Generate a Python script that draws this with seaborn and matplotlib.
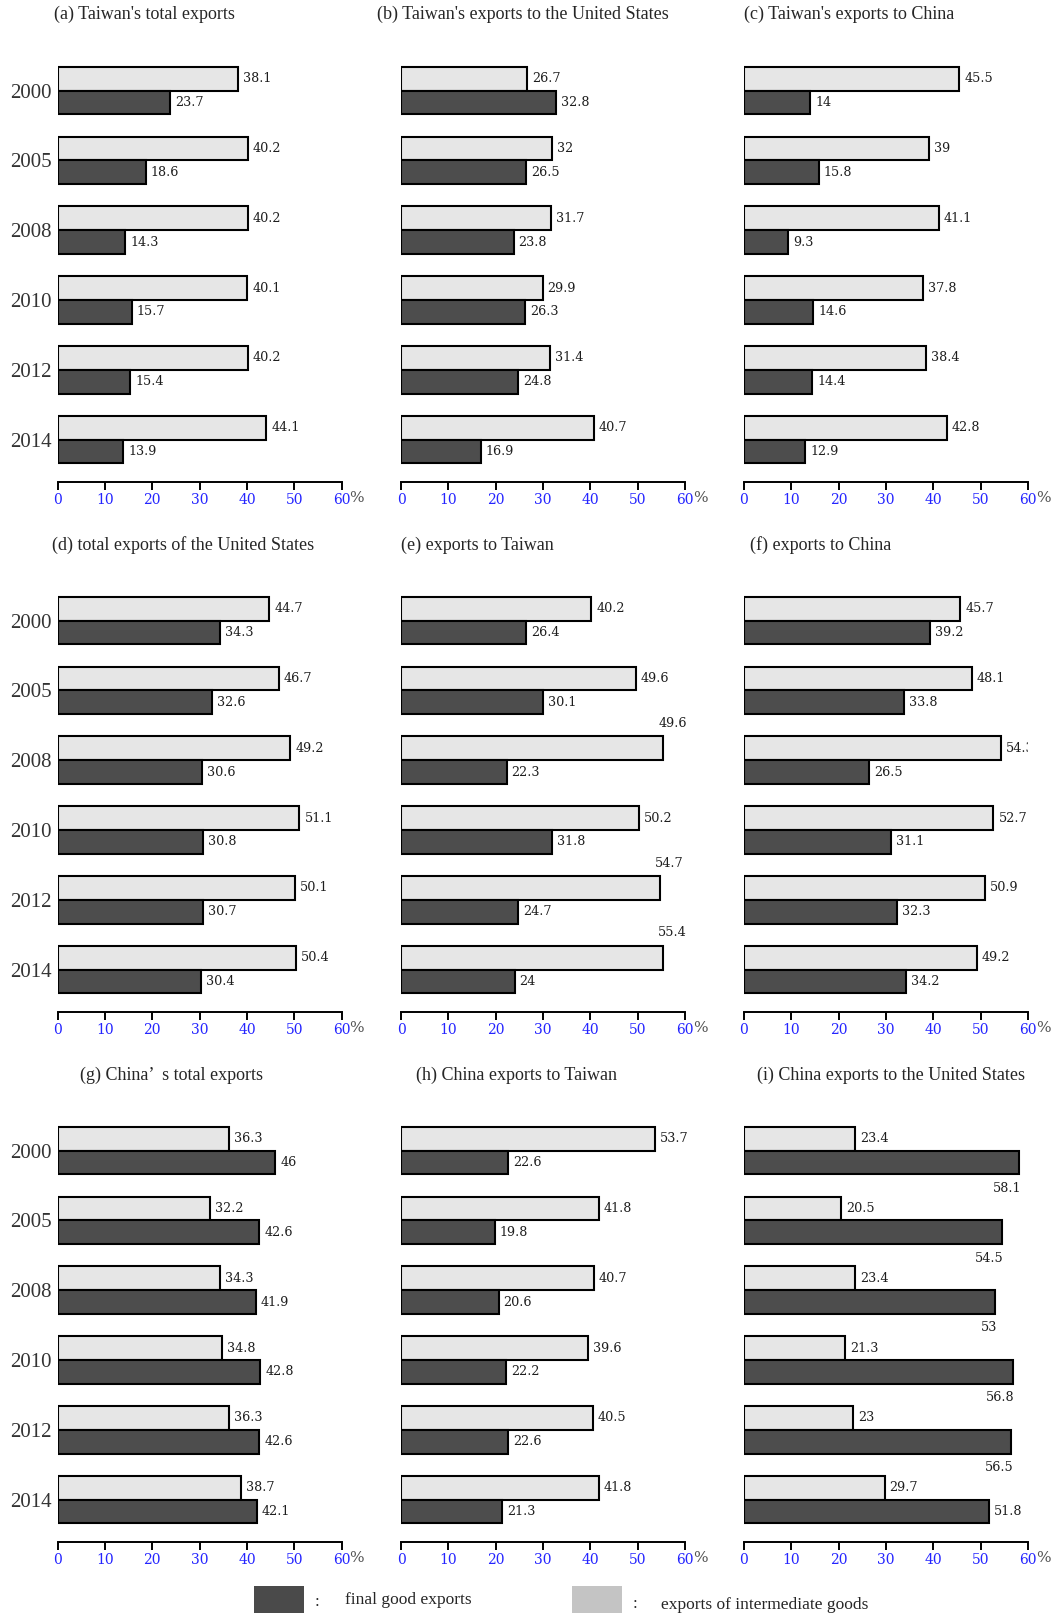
import matplotlib
matplotlib.use('Agg')
import matplotlib.pyplot as plt
import pandas as pd
import seaborn as sns
from matplotlib.patches import Rectangle

# Data (shares in %), light = intermediate goods, dark = final goods
years = ['2000', '2005', '2008', '2010', '2012', '2014']

titles = [
    "(a) Taiwan's total exports",
    "(b) Taiwan's exports to the United States",
    "(c) Taiwan's exports to China",
    "(d) total exports of the United States",
    "(e) exports to Taiwan",
    "(f) exports to China",
    "(g) China\u2019  s total exports",
    "(h) China exports to Taiwan",
    "(i) China exports to the United States",
]

inter_a = [38.1, 40.2, 40.2, 40.1, 40.2, 44.1]
final_a = [23.7, 18.6, 14.3, 15.7, 15.4, 13.9]
inter_b = [26.7, 32, 31.7, 29.9, 31.4, 40.7]
final_b = [32.8, 26.5, 23.8, 26.3, 24.8, 16.9]
inter_c = [45.5, 39, 41.1, 37.8, 38.4, 42.8]
final_c = [14, 15.8, 9.3, 14.6, 14.4, 12.9]
inter_d = [44.7, 46.7, 49.2, 51.1, 50.1, 50.4]
final_d = [34.3, 32.6, 30.6, 30.8, 30.7, 30.4]
inter_e = [40.2, 49.6, 55.4, 50.2, 54.7, 55.4]
inter_e_text = ['40.2', '49.6', '49.6', '50.2', '54.7', '55.4']
final_e = [26.4, 30.1, 22.3, 31.8, 24.7, 24]
inter_f = [45.7, 48.1, 54.3, 52.7, 50.9, 49.2]
final_f = [39.2, 33.8, 26.5, 31.1, 32.3, 34.2]
inter_g = [36.3, 32.2, 34.3, 34.8, 36.3, 38.7]
final_g = [46, 42.6, 41.9, 42.8, 42.6, 42.1]
inter_h = [53.7, 41.8, 40.7, 39.6, 40.5, 41.8]
final_h = [22.6, 19.8, 20.6, 22.2, 22.6, 21.3]
inter_i = [23.4, 20.5, 23.4, 21.3, 23, 29.7]
final_i = [58.1, 54.5, 53, 56.8, 56.5, 51.8]

inter_all = [inter_a, inter_b, inter_c, inter_d, inter_e, inter_f, inter_g, inter_h, inter_i]
final_all = [final_a, final_b, final_c, final_d, final_e, final_f, final_g, final_h, final_i]
keys = list('abcdefghi')

INTER = 'exports of intermediate goods'
FINAL = 'final good exports'
LIGHT = '#e6e6e6'
DARK = '#4d4d4d'

sns.set_style('white')
plt.rcParams['font.family'] = 'serif'
plt.rcParams['font.serif'] = ['Liberation Serif', 'DejaVu Serif']

W, H = 1060, 1613
fig = plt.figure(figsize=(W / 100, H / 100), dpi=100)

col_left = [57.6, 401, 744]
row_top = [55.7, 585.7, 1115.7]
ax_w, ax_h = 284, 425.8
title_xy = [(53.5, 14.4), (377, 14.4), (744, 14.4),
            (51.5, 545.5), (401, 545.5), (750, 545.5),
            (80, 1075.5), (416, 1075.5), (757, 1075.5)]

# labels that sit off the bar end in the original
above = {('e', '2008'), ('e', '2012'), ('e', '2014')}
below = {('i', y) for y in years[:5]}

for k, key in enumerate(keys):
    r, c = divmod(k, 3)
    ax = fig.add_axes([col_left[c] / W, 1 - (row_top[r] + ax_h) / H, ax_w / W, ax_h / H])
    inter, final = inter_all[k], final_all[k]
    df = pd.DataFrame({'year': years * 2,
                       'share': inter + final,
                       'kind': [INTER] * 6 + [FINAL] * 6})
    sns.barplot(data=df, x='share', y='year', hue='kind', hue_order=[INTER, FINAL],
                palette=[LIGHT, DARK], orient='h', width=0.68, saturation=1,
                edgecolor='black', linewidth=1.5, errorbar=None, legend=False, ax=ax)

    texts = [inter_e_text if key == 'e' else [f'{v:g}' for v in inter],
             [f'{v:g}' for v in final]]
    for s, (cont, labs) in enumerate(zip(ax.containers, texts)):
        for i, (bar, lab) in enumerate(zip(cont, labs)):
            end = bar.get_width()
            y0 = bar.get_y()
            yc = y0 + bar.get_height() / 2
            kw = dict(textcoords='offset pixels', fontsize=9.2, color='#1e1e1e',
                      family='DejaVu Serif', clip_on=(key == 'f'))
            if s == 0 and (key, years[i]) in above:
                ax.annotate(lab, (end, y0), xytext=(-5, 13), ha='left', va='center', **kw)
            elif s == 1 and (key, years[i]) in below:
                ax.annotate(lab, (end, y0 + bar.get_height()), xytext=(2, -14),
                            ha='right', va='center', **kw)
            else:
                ax.annotate(lab, (end, yc), xytext=(5, 0), ha='left', va='center', **kw)

    ax.set_xlim(0, 60)
    ax.set_ylim(5.6, -0.5)
    ax.set_xticks(range(0, 61, 10))
    ax.set_xlabel('')
    ax.set_ylabel('')
    for side in ['left', 'top', 'right']:
        ax.spines[side].set_visible(False)
    ax.spines['bottom'].set_linewidth(1.4)
    ax.spines['bottom'].set_color('black')
    ax.tick_params(axis='x', bottom=True, direction='out', length=5.5, width=1.4,
                   color='black', labelcolor='#2424ff', pad=3, labelsize=10)
    for lbl in ax.get_xticklabels():
        lbl.set_fontfamily('DejaVu Serif')
    ax.tick_params(axis='y', left=False, length=0, pad=4)
    if c == 0:
        ax.tick_params(axis='y', labelsize=15, labelcolor='#333333')
    else:
        ax.tick_params(axis='y', labelleft=False)
    ax.annotate('%', (1, 0), xycoords='axes fraction', xytext=(15, -17),
                textcoords='offset pixels', ha='center', va='center',
                fontsize=11, color='#555555', family='DejaVu Serif')

    tx, ty = title_xy[k]
    fig.text(tx / W, 1 - ty / H, titles[k], ha='left', va='center', fontsize=13)

# legend drawn at the bottom
fig.patches.append(Rectangle((254 / W, 0), 50 / W, 27 / H, transform=fig.transFigure,
                             facecolor='#4a4a4a', edgecolor='none'))
fig.patches.append(Rectangle((572 / W, 0), 50 / W, 27 / H, transform=fig.transFigure,
                             facecolor='#c4c4c4', edgecolor='none'))
fig.text(317 / W, 1 - 1602 / H, ':', ha='center', va='center', fontsize=12)
fig.text(345 / W, 1 - 1600 / H, FINAL, ha='left', va='center', fontsize=12.5)
fig.text(635 / W, 1 - 1604 / H, ':', ha='center', va='center', fontsize=12)
fig.text(661 / W, 1 - 1605 / H, INTER, ha='left', va='center', fontsize=12.5)

fig.savefig('out.png', dpi=100)
